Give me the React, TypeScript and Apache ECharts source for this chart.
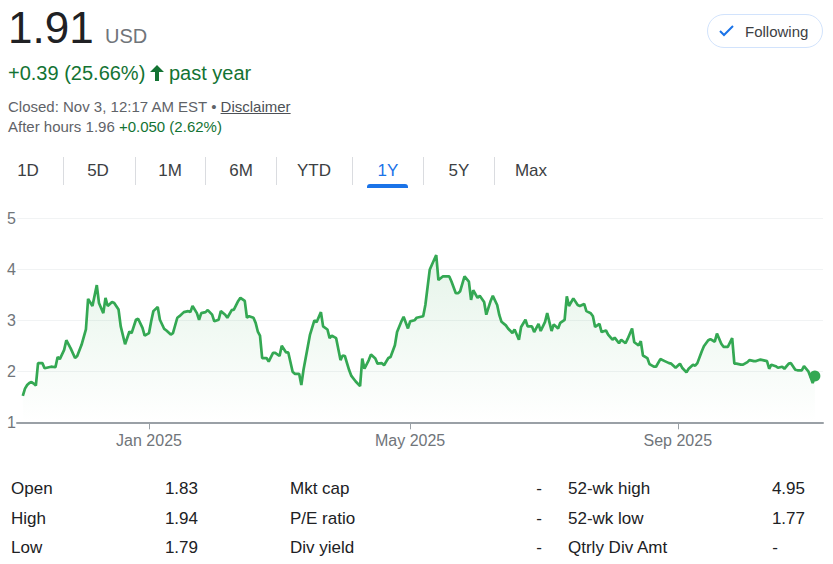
import React, { useEffect, useRef } from "react";
import * as echarts from "echarts";

// ---------- data ----------
// trading-day offsets (days after 2024-11-04) and closing prices (USD)
const dayOffsets = [
  0, 1, 2, 3, 4, 5, 6, 7, 9, 10, 12, 13, 15, 16, 17, 19, 20, 22, 24, 25, 27, 29, 30, 32, 34, 35, 37, 38, 39, 41,
  42, 44, 45, 47, 49, 50, 52, 53, 55, 56, 58, 59, 60, 62, 63, 65, 66, 68, 69, 71, 72, 74, 76, 77, 78, 80, 81, 82, 84, 85,
  87, 88, 90, 91, 93, 94, 96, 97, 99, 100, 102, 103, 104, 106, 107, 108, 109, 110, 112, 113, 115, 116, 118, 119, 121, 122, 124, 125, 127, 128,
  129, 131, 132, 134, 135, 137, 138, 140, 141, 142, 144, 146, 147, 148, 150, 151, 153, 155, 156, 157, 159, 160, 162, 163, 165, 166, 168, 169, 171, 172,
  174, 175, 177, 178, 180, 181, 183, 184, 185, 187, 188, 190, 191, 193, 194, 196, 197, 199, 200, 201, 203, 205, 206, 207, 209, 210, 212, 213, 215, 216,
  218, 219, 220, 222, 223, 225, 226, 228, 229, 231, 232, 234, 235, 237, 238, 240, 241, 243, 244, 246, 247, 249, 250, 251, 253, 255, 256, 258, 259, 261,
  262, 263, 265, 266, 268, 269, 271, 272, 274, 275, 277, 278, 280, 281, 283, 284, 285, 287, 288, 290, 291, 293, 295, 297, 298, 300, 302, 303, 305, 306,
  308, 309, 310, 312, 313, 315, 316, 318, 319, 321, 322, 324, 326, 327, 328, 330, 331, 333, 334, 336, 337, 339, 340, 342, 343, 344, 346, 347, 349, 350,
  352, 353, 355, 356, 358, 359, 361, 362, 363, 364,
];
const prices = [
  1.52, 1.66, 1.73, 1.77, 1.79, 1.76, 1.72, 2.16, 2.16, 2.06, 2.08, 2.09, 2.08, 2.28, 2.24, 2.42, 2.61, 2.45, 2.26, 2.3, 2.52, 2.82, 3.42, 3.28, 3.69, 3.34, 3.14, 3.44, 3.28, 3.36,
  3.34, 3.21, 2.88, 2.53, 2.78, 2.75, 3.01, 3.03, 2.85, 2.7, 2.75, 2.98, 3.18, 3.26, 3.01, 2.83, 2.8, 2.72, 2.75, 3.05, 3.08, 3.16, 3.18, 3.16, 3.28, 3.14, 3.01, 3.14, 3.16, 3.2,
  3.11, 2.98, 3.01, 3.18, 3.11, 3.05, 3.2, 3.21, 3.38, 3.44, 3.38, 3.05, 3.08, 3.05, 2.95, 2.78, 2.7, 2.26, 2.26, 2.19, 2.36, 2.36, 2.3, 2.5, 2.37, 2.37, 1.99, 1.95, 1.95, 1.73,
  2.03, 2.49, 2.72, 3.0, 2.96, 3.16, 2.88, 2.82, 2.65, 2.7, 2.65, 2.22, 2.31, 2.3, 2.02, 1.91, 1.8, 1.71, 2.25, 2.05, 2.22, 2.33, 2.25, 2.15, 2.16, 2.12, 2.26, 2.28, 2.51, 2.77,
  2.98, 3.07, 2.84, 2.98, 3.0, 3.05, 3.07, 3.08, 3.3, 3.99, 4.09, 4.28, 3.79, 3.86, 3.86, 3.86, 3.76, 3.53, 3.53, 3.57, 3.86, 3.76, 3.4, 3.59, 3.44, 3.48, 3.36, 3.11, 3.38, 3.48,
  3.3, 3.1, 2.97, 2.9, 2.84, 2.75, 2.82, 2.62, 2.87, 3.01, 2.88, 2.88, 2.77, 2.93, 2.79, 2.97, 3.14, 2.79, 2.92, 2.84, 2.95, 3.01, 3.47, 3.28, 3.43, 3.3, 3.28, 3.32, 3.18, 3.14,
  3.08, 2.87, 2.93, 2.77, 2.8, 2.72, 2.62, 2.66, 2.55, 2.62, 2.55, 2.64, 2.84, 2.57, 2.51, 2.59, 2.31, 2.26, 2.14, 2.09, 2.09, 2.24, 2.2, 2.16, 2.15, 2.07, 2.15, 2.07, 1.98, 2.05,
  2.13, 2.11, 2.16, 2.39, 2.49, 2.61, 2.63, 2.58, 2.74, 2.54, 2.48, 2.48, 2.65, 2.15, 2.15, 2.13, 2.13, 2.18, 2.22, 2.2, 2.2, 2.23, 2.22, 2.2, 2.05, 2.13, 2.1, 2.07, 2.09, 2.05,
  2.15, 2.16, 2.03, 2.02, 2.02, 2.1, 2.0, 1.89, 1.77, 1.91,
];
const yTicks = [1, 2, 3, 4, 5];
const xTickDates = ["2025-01-01", "2025-05-01", "2025-09-01"];
const monthNames = ["Jan", "Feb", "Mar", "Apr", "May", "Jun", "Jul", "Aug", "Sep", "Oct", "Nov", "Dec"];

const price = "1.91";
const currency = "USD";
const change = "+0.39 (25.66%)";
const changePeriod = "past year";
const closedText = "Closed: Nov 3, 12:17 AM EST";
const afterHoursLabel = "After hours 1.96";
const afterHoursChange = "+0.050 (2.62%)";
const tabs = ["1D", "5D", "1M", "6M", "YTD", "1Y", "5Y", "Max"];
const activeTab = "1Y";
const statLabels = [
  ["Open", "High", "Low"],
  ["Mkt cap", "P/E ratio", "Div yield"],
  ["52-wk high", "52-wk low", "Qtrly Div Amt"],
];
const statValues = [
  ["1.83", "1.94", "1.79"],
  ["-", "-", "-"],
  ["4.95", "1.77", "-"],
];

// ---------- layout ----------
const FONT = '"Liberation Sans", Arial, Helvetica, sans-serif';
const GREEN_TEXT = "#137333";
const LINE_GREEN = "#34a853";
const DAY = 86400000;
const START = Date.UTC(2024, 10, 4);
const tabCenters = [28, 98, 170, 241, 314, 388, 459, 531];
const tabSeparators = [63, 135, 205, 276, 352, 423, 494];
const statLabelLeft = [11, 290, 568];
const statValueRight = [198, 542, 805];
const statDashRight = [198, 542, 778];
const statBaselines = [494, 524, 553];

function dayOf(s: string) {
  const [y, m, d] = s.split("-").map(Number);
  return Math.round((Date.UTC(y, m - 1, d) - START) / DAY);
}

function Chart() {
  const ref = useRef<HTMLDivElement>(null);
  useEffect(() => {
    if (!ref.current) return;
    const chart = echarts.init(ref.current, null, { renderer: "svg" });
    const data = dayOffsets.map((d, i) => [d, prices[i]]);
    const last = data[data.length - 1];
    const tickVals = xTickDates.map(dayOf);
    chart.setOption({
      animation: false,
      textStyle: { fontFamily: FONT },
      grid: { left: 17, right: 10, top: 18.3, bottom: 27.7 },
      xAxis: {
        type: "value",
        min: -2.67,
        max: 367.74,
        axisLine: { show: true, onZero: false, lineStyle: { color: "#9aa0a6", width: 2 } },
        axisTick: { show: true, customValues: tickVals, length: 7, lineStyle: { color: "#9aa0a6", width: 1 } },
        axisLabel: {
          customValues: tickVals,
          color: "#70757a",
          fontSize: 16,
          margin: 10,
          fontFamily: FONT,
          formatter: (v: number) => {
            const dt = new Date(START + v * DAY);
            return monthNames[dt.getUTCMonth()] + " " + dt.getUTCFullYear();
          },
        },
        splitLine: { show: false },
      },
      yAxis: {
        type: "value",
        min: yTicks[0],
        max: yTicks[yTicks.length - 1],
        interval: 1,
        axisLine: { show: false },
        axisTick: { show: false },
        axisLabel: { color: "#70757a", fontSize: 16, margin: 1, fontFamily: FONT },
        splitLine: { show: true, lineStyle: { color: "#f1f3f4", width: 1 } },
      },
      series: [
        {
          type: "line",
          data,
          showSymbol: false,
          symbol: "none",
          lineStyle: { color: LINE_GREEN, width: 2.7 },
          itemStyle: { color: LINE_GREEN },
          areaStyle: {
            color: new echarts.graphic.LinearGradient(0, 0, 0, 1, [
              { offset: 0, color: "rgba(52,168,83,0.18)" },
              { offset: 1, color: "rgba(52,168,83,0)" },
            ]),
          },
          z: 3,
        },
        {
          type: "scatter",
          data: [last],
          symbolSize: 11,
          itemStyle: { color: LINE_GREEN, opacity: 1 },
          z: 4,
        },
      ],
    });
    return () => chart.dispose();
  }, []);
  return <div ref={ref} style={{ position: "absolute", left: 0, top: 200, width: 833, height: 250 }} />;
}

function Txt(props: {
  left?: number;
  right?: number;
  baseline: number;
  size: number;
  color: string;
  children: React.ReactNode;
  style?: React.CSSProperties;
}) {
  const { left, right, baseline, size, color, children, style } = props;
  const top = baseline - 0.8465 * size;
  const pos: React.CSSProperties =
    right !== undefined ? { left: right - 400, width: 400, textAlign: "right" } : { left };
  return (
    <div
      style={{
        position: "absolute",
        top,
        ...pos,
        fontSize: size,
        lineHeight: `${size}px`,
        color,
        whiteSpace: "nowrap",
        fontFamily: FONT,
        ...style,
      }}
    >
      {children}
    </div>
  );
}

export default function App() {
  return (
    <div
      style={{
        position: "absolute",
        left: 0,
        top: 0,
        width: 833,
        height: 564,
        background: "#fff",
        fontFamily: FONT,
        overflow: "hidden",
      }}
    >
      <Txt left={8} baseline={43.3} size={44} color="#202124">
        {price}
      </Txt>
      <Txt left={105} baseline={43.3} size={20} color="#70757a">
        {currency}
      </Txt>
      <Txt left={8} baseline={79.5} size={20} color={GREEN_TEXT}>
        {change}
      </Txt>
      <svg style={{ position: "absolute", left: 150, top: 65 }} width={14} height={16} viewBox="0 0 14 16">
        <polygon points="7,0 14,7 9,7 9,16 5,16 5,7 0,7" fill={GREEN_TEXT} />
      </svg>
      <Txt left={169} baseline={79.5} size={20} color={GREEN_TEXT}>
        {changePeriod}
      </Txt>
      <Txt left={8} baseline={111.7} size={15} color="#5f6368">
        {closedText} •{" "}
        <span style={{ textDecoration: "underline", color: "#4d5156" }}>Disclaimer</span>
      </Txt>
      <Txt left={8} baseline={131.7} size={15} color="#5f6368">
        {afterHoursLabel} <span style={{ color: GREEN_TEXT }}>{afterHoursChange}</span>
      </Txt>

      {/* Following button */}
      <div
        style={{
          position: "absolute",
          left: 707,
          top: 14,
          width: 114,
          height: 32,
          border: "1px solid #d2e3fc",
          borderRadius: 17,
          boxSizing: "content-box",
        }}
      />
      <svg style={{ position: "absolute", left: 719, top: 25 }} width={15} height={12} viewBox="0 0 15 12">
        <polyline points="1,6 5,10 14,1" fill="none" stroke="#1a73e8" strokeWidth={2} />
      </svg>
      <Txt left={745} baseline={36.4} size={15} color="#3c4043">
        Following
      </Txt>

      {/* Tabs */}
      {tabs.map((t, i) => (
        <div
          key={t}
          style={{
            position: "absolute",
            left: tabCenters[i] - 40,
            width: 80,
            textAlign: "center",
            top: 176 - 0.8465 * 17,
            fontSize: 17,
            lineHeight: "17px",
            color: t === activeTab ? "#1a73e8" : "#3c4043",
            fontFamily: FONT,
          }}
        >
          {t}
        </div>
      ))}
      {tabSeparators.map((x, i) => (
        <div key={i} style={{ position: "absolute", left: x, top: 157, width: 1, height: 28, background: "#dadce0" }} />
      ))}
      <div
        style={{
          position: "absolute",
          left: 367,
          top: 184,
          width: 41,
          height: 4,
          background: "#1a73e8",
          borderRadius: "3px 3px 0 0",
        }}
      />

      <Chart />

      {/* Stats */}
      {statLabels.map((col, c) =>
        col.map((lab, r) => (
          <React.Fragment key={`${c}-${r}`}>
            <Txt left={statLabelLeft[c]} baseline={statBaselines[r]} size={17} color="#202124">
              {lab}
            </Txt>
            <Txt
              right={statValues[c][r] === "-" ? statDashRight[c] : statValueRight[c]}
              baseline={statBaselines[r]}
              size={17}
              color="#202124"
            >
              {statValues[c][r]}
            </Txt>
          </React.Fragment>
        ))
      )}
    </div>
  );
}
